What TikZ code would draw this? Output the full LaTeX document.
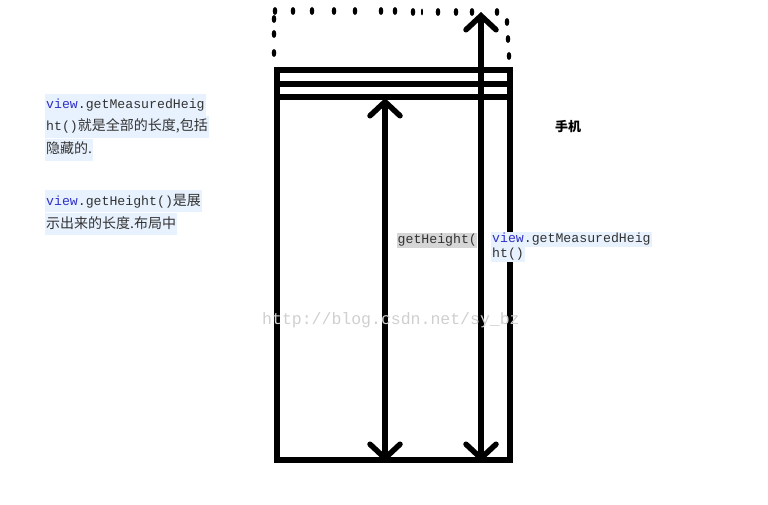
\documentclass[tikz,border=0pt]{standalone}
\usepackage{fontspec}
\setmainfont{Liberation Sans}
\setmonofont{Liberation Mono}
\newfontfamily\cjk{Noto Sans CJK SC}
\usetikzlibrary{arrows.meta}
\definecolor{hl}{HTML}{E8F2FE}
\definecolor{kw}{HTML}{3030C8}
\definecolor{tx}{HTML}{333333}
\definecolor{gr}{HTML}{D6D6D6}
\definecolor{wm}{HTML}{CFCFCF}
\tikzset{
  frame/.style={line width=5.5pt},
  dotmark/.style={fill=black},
  arr/.style={line width=5.5pt, {Straight Barb[length=14pt,width=30pt,line cap=round]}-{Straight Barb[length=14pt,width=30pt,line cap=round]}},
  line/.style={anchor=west, fill=hl, inner xsep=1pt, inner ysep=0pt, text height=15pt, text depth=7pt, text=tx},
}
\newcommand{\kwv}{\textcolor{kw}{view}}
\newcommand{\mn}{\ttfamily\fontsize{13.2}{14}\selectfont}
\newcommand{\cj}{\cjk\fontsize{14}{15}\selectfont}
\begin{document}
\begin{tikzpicture}[x=1pt,y=-1pt]
\useasboundingbox (0,0) rectangle (768,505);
% dotted outline (vertical oval dots)
\foreach \px/\py in {275/11, 293/11, 312/11, 334/11, 355/11, 381/11, 395/11, 413/12, 438/12, 456/12, 472/12, 497/12,
                     274/19, 274/34, 274/53,
                     507/22, 508/39, 509/56}
  \fill[dotmark] (\px,\py) ellipse [x radius=2.3pt, y radius=4pt];
\fill[dotmark] (422,12) ellipse [x radius=1pt, y radius=3.5pt];
% phone frame
\draw[frame] (277,70) rectangle (510,460);
\coordinate (l1a) at (277,84); \coordinate (l1b) at (510,84);
\coordinate (l2a) at (277,97); \coordinate (l2b) at (510,97);
\draw[frame] (l1a) -- (l1b);
\draw[frame] (l2a) -- (l2b);
% arrows
\coordinate (ghTop) at (385,98);
\coordinate (ghBot) at (385,462);
\coordinate (mhTop) at (481,12);
\coordinate (mhBot) at (481,462);
\draw[arr] (ghTop) -- (ghBot);
\draw[arr] (mhTop) -- (mhBot);
% watermark
\node[anchor=west, text=wm, inner sep=0pt, font=\ttfamily\fontsize{16.5}{18}\selectfont] (wmk) at (262,320) {http://blog.csdn.net/sy\_bz};
% left text
\node[line] (t1) at (45,105) {\mn\kwv.getMeasuredHeig};
\node[line] (t2) at (45,127) {{\mn ht()}{\cj 就是全部的长度,包括}};
\node[line] (t3) at (45,150) {{\cj 隐藏的.}};
\node[line] (t4) at (45,201) {{\mn\kwv.getHeight()}{\cj 是展}};
\node[line] (t5) at (45,224) {{\cj 示出来的长度.布局中}};
% middle labels
\node[line, fill=gr, inner xsep=0.5pt, text height=11pt, text depth=4pt] (gh) at (397,240) {\mn getHeight(};
\node[line, inner xsep=1pt, text height=11pt, text depth=4pt] (m1) at (491,239) {\mn\kwv.getMeasuredHeig};
\node[line, inner xsep=1pt, text height=11pt, text depth=4pt] (m2) at (491,254) {\mn ht()};
% phone label
\node[anchor=west, inner sep=0pt, font=\cjk\bfseries\fontsize{13}{14}\selectfont] (phone) at (555,127) {手机};
\end{tikzpicture}
\end{document}
